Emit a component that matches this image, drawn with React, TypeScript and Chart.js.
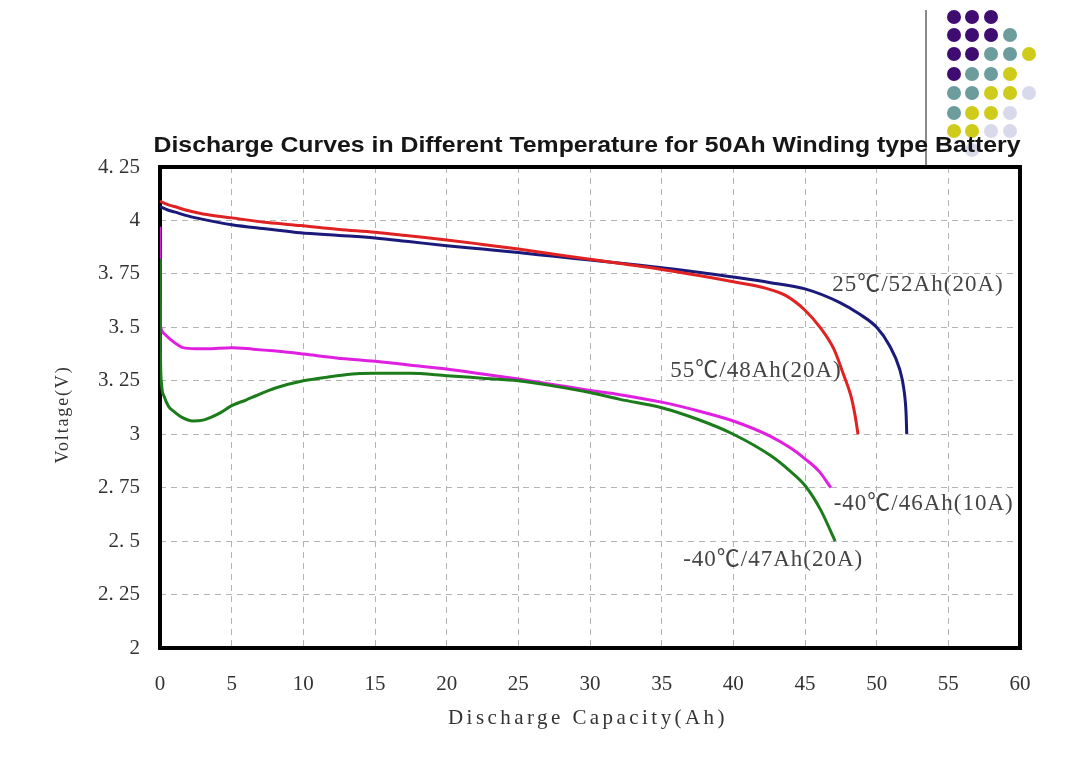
import { useEffect, useRef } from "react"
import { Chart, registerables } from "chart.js"

Chart.register(...registerables)

const TITLE = "Discharge Curves in Different Temperature for 50Ah Winding type Battery"
const X_TITLE = "Discharge Capacity(Ah)"
const Y_TITLE = "Voltage(V)"

// x ticks 0..60 step 5, y ticks 2..4.25 step 0.25
const xTickLabels = ["0", "5", "10", "15", "20", "25", "30", "35", "40", "45", "50", "55", "60"]
const yTickLabels = ["2", "2. 25", "2. 5", "2. 75", "3", "3. 25", "3. 5", "3. 75", "4", "4. 25"]

// 25℃ / 52Ah (20A)
const blueAh = [0, 0.5, 1, 2, 3, 5, 7.5, 9.8, 12.5, 15, 17.5, 20, 22.5, 25, 27.5, 30, 32.5, 35, 37.7, 40, 42.5, 45, 47.4, 48.8, 50, 50.9, 51.6, 51.9, 52.05, 52.1]
const blueV = [4.065, 4.05, 4.04, 4.02, 4.005, 3.98, 3.96, 3.942, 3.93, 3.918, 3.9, 3.882, 3.866, 3.85, 3.832, 3.815, 3.797, 3.779, 3.757, 3.735, 3.71, 3.68, 3.617, 3.562, 3.5, 3.414, 3.305, 3.21, 3.1, 3.0]

// 55℃ / 48Ah (20A)
const redAh = [0, 0.5, 1, 2, 3, 5, 7.5, 9.8, 12.5, 15, 17.5, 20, 22.5, 25, 27.5, 30, 32.5, 35, 37.7, 40, 42.3, 43.7, 45, 46.05, 47, 47.7, 48.2, 48.5, 48.7]
const redV = [4.09, 4.075, 4.065, 4.045, 4.03, 4.012, 3.99, 3.976, 3.958, 3.945, 3.927, 3.909, 3.888, 3.866, 3.842, 3.818, 3.795, 3.771, 3.741, 3.713, 3.682, 3.647, 3.58, 3.5, 3.4, 3.277, 3.18, 3.085, 3.0]

// -40℃ / 46Ah (10A)
const pinkAh = [0, 0.01, 0.05, 0.3, 0.7, 1.2, 1.6, 2.5, 3.2, 5, 6.5, 7.9, 10, 12.3, 15, 17.5, 20, 22.5, 25, 27.5, 30, 32.1, 35, 37.5, 40, 42.6, 44, 45, 46, 46.8]
const pinkV = [3.97, 3.6, 3.5, 3.47, 3.445, 3.42, 3.405, 3.4, 3.4, 3.405, 3.398, 3.39, 3.375, 3.357, 3.341, 3.323, 3.305, 3.282, 3.258, 3.232, 3.205, 3.185, 3.15, 3.11, 3.062, 2.99, 2.935, 2.885, 2.825, 2.75]

// -40℃ / 47Ah (20A)
const greenAh = [0, 0.03, 0.1, 0.3, 0.6, 0.9, 1.5, 2.3, 3.0, 3.5, 4.2, 5, 6, 6.7, 8, 10, 12, 13.7, 15, 17.4, 20, 22.5, 25, 27.5, 30, 32.1, 35, 37.5, 40, 42.6, 44, 45, 46.1, 47.1]
const greenV = [3.82, 3.4, 3.24, 3.175, 3.13, 3.11, 3.08, 3.062, 3.066, 3.078, 3.1, 3.134, 3.16, 3.18, 3.215, 3.25, 3.27, 3.283, 3.285, 3.285, 3.274, 3.262, 3.25, 3.225, 3.195, 3.163, 3.124, 3.07, 3.0, 2.9, 2.825, 2.76, 2.645, 2.5]

// text next to each curve, anchored in data units (left, middle)
const curveLabels = [
  { text: "25℃/52Ah(20A)", x: 46.9, y: 3.7 },
  { text: "55℃/48Ah(20A)", x: 35.6, y: 3.295 },
  { text: "-40℃/46Ah(10A)", x: 47.0, y: 2.672 },
  { text: "-40℃/47Ah(20A)", x: 36.5, y: 2.413 },
]

// decorative dot pattern top right (P purple, T teal, Y yellow, L lavender)
const dotRows = ["PPP", "PPPT", "PPTTY", "PTTY", "TTYYL", "TYYL", "YYLL", " L"]
const dotColors: Record<string, string> = { P: "#3f0d72", T: "#6c9c9c", Y: "#cfcb1b", L: "#d9d9ec" }

const zip = (xs: number[], ys: number[]) => xs.map((x, i) => ({ x, y: ys[i] }))

// draw text spread out to a given width (the original uses a wide, spaced serif)
function spacedText(ctx: any, text: string, width: number) {
  ctx.letterSpacing = "0px"
  const w = ctx.measureText(text).width
  ctx.letterSpacing = `${(width - w) / text.length}px`
  ctx.fillText(text, 0, 0)
}

const framePlugin = {
  id: "frame",
  beforeDatasetsDraw(chart: any) {
    const { ctx, chartArea } = chart
    ctx.save()
    ctx.lineWidth = 4
    ctx.strokeStyle = "#000"
    ctx.strokeRect(chartArea.left, chartArea.top, chartArea.right - chartArea.left, chartArea.bottom - chartArea.top)
    ctx.restore()
  },
  afterDatasetsDraw(chart: any) {
    const { ctx, chartArea, scales } = chart
    const midX = (chartArea.left + chartArea.right) / 2
    const midY = (chartArea.top + chartArea.bottom) / 2

    // title stretched to the width it has in the original
    ctx.save()
    ctx.font = 'bold 22px "Liberation Sans", Arial, sans-serif'
    ctx.fillStyle = "#161616"
    ctx.textAlign = "center"
    ctx.textBaseline = "middle"
    const w = ctx.measureText(TITLE).width
    ctx.translate(midX - 3, chartArea.top - 21)
    ctx.scale(867 / w, 1)
    ctx.fillText(TITLE, 0, 0)
    ctx.restore()

    // axis titles
    ctx.save()
    ctx.fillStyle = "#333"
    ctx.textAlign = "center"
    ctx.textBaseline = "middle"
    ctx.font = '21px "Liberation Serif", "DejaVu Serif", serif'
    ctx.translate(midX - 2, chartArea.bottom + 70)
    spacedText(ctx, X_TITLE, 280)
    ctx.restore()

    ctx.save()
    ctx.fillStyle = "#333"
    ctx.textAlign = "center"
    ctx.textBaseline = "middle"
    ctx.font = '18px "Liberation Serif", "DejaVu Serif", serif'
    ctx.translate(chartArea.left - 97, midY + 7)
    ctx.rotate(-Math.PI / 2)
    spacedText(ctx, Y_TITLE, 98)
    ctx.restore()

    ctx.save()
    ctx.font = '23px "Liberation Serif", "Noto Sans CJK SC", serif'
    ctx.letterSpacing = "1px"
    ctx.fillStyle = "#444"
    ctx.textAlign = "left"
    ctx.textBaseline = "middle"
    curveLabels.forEach((l) => {
      ctx.fillText(l.text, scales.x.getPixelForValue(l.x), scales.y.getPixelForValue(l.y))
    })
    ctx.restore()
  },
}

function DischargeChart() {
  const chartRef = useRef<HTMLCanvasElement>(null)
  const chartInstance = useRef<Chart | null>(null)

  useEffect(() => {
    if (!chartRef.current) return
    if (chartInstance.current) chartInstance.current.destroy()

    const line = (label: string, color: string, xs: number[], ys: number[]) => ({
      label,
      data: zip(xs, ys),
      borderColor: color,
      backgroundColor: color,
      borderWidth: 3,
      pointRadius: 0,
      cubicInterpolationMode: "monotone" as const,
      fill: false,
    })

    const tickFont = { family: '"Liberation Serif", "DejaVu Serif", serif', size: 21 }

    chartInstance.current = new Chart(chartRef.current, {
      type: "line",
      data: {
        datasets: [
          line("-40℃/47Ah(20A)", "#1c7c1c", greenAh, greenV),
          line("-40℃/46Ah(10A)", "#e020e0", pinkAh, pinkV),
          line("55℃/48Ah(20A)", "#e02222", redAh, redV),
          line("25℃/52Ah(20A)", "#1a1a7a", blueAh, blueV),
        ],
      },
      options: {
        responsive: true,
        maintainAspectRatio: false,
        animation: false,
        layout: { padding: { top: 167, right: 60, left: 0, bottom: 0 } },
        plugins: {
          legend: { display: false },
          tooltip: { enabled: false },
        },
        scales: {
          x: {
            type: "linear",
            min: 0,
            max: 60,
            afterFit: (scale: any) => { scale.height = 116 },
            grid: { color: "#b4b4b4", lineWidth: 1, drawTicks: false },
            border: { display: false, dash: [6, 5] },
            ticks: {
              stepSize: 5,
              padding: 24,
              color: "#333",
              font: tickFont,
              callback: (_v: any, i: number) => xTickLabels[i],
            },
          },
          y: {
            type: "linear",
            min: 2,
            max: 4.25,
            afterFit: (scale: any) => { scale.width = 160 },
            grid: { color: "#b4b4b4", lineWidth: 1, drawTicks: false },
            border: { display: false, dash: [6, 5] },
            ticks: {
              stepSize: 0.25,
              padding: 20,
              color: "#333",
              font: tickFont,
              callback: (_v: any, i: number) => yTickLabels[i],
            },
          },
        },
      },
      plugins: [framePlugin],
    })

    return () => {
      if (chartInstance.current) {
        chartInstance.current.destroy()
        chartInstance.current = null
      }
    }
  }, [])

  return (
    <div style={{ position: "absolute", left: 0, top: 0, width: 1080, height: 764, zIndex: 1 }}>
      <canvas ref={chartRef} />
    </div>
  )
}

function Dots() {
  const colX = [954, 972.3, 990.7, 1010, 1029.3]
  const rowY = [16.7, 35, 54.3, 74, 93.3, 112.7, 131, 150]
  return (
    <div style={{ position: "absolute", left: 0, top: 0, width: 1080, height: 764, zIndex: 0 }}>
      <div style={{ position: "absolute", left: 925, top: 10, width: 1.5, height: 156, background: "#8a8a8a" }} />
      {dotRows.map((row, r) =>
        row.split("").map((c, k) =>
          c === " " ? null : (
            <div
              key={`${r}-${k}`}
              style={{
                position: "absolute",
                left: colX[k] - 7,
                top: rowY[r] - 7,
                width: 14,
                height: 14,
                borderRadius: "50%",
                background: dotColors[c],
              }}
            />
          )
        )
      )}
    </div>
  )
}

export default function App() {
  return (
    <div style={{ position: "absolute", left: 0, top: 0, width: 1080, height: 764, background: "#fff" }}>
      <Dots />
      <DischargeChart />
    </div>
  )
}
